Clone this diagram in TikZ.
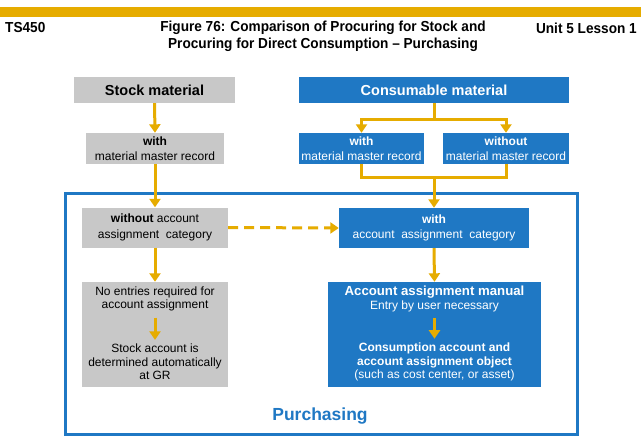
\documentclass[tikz,border=0pt]{standalone}
\usepackage{fontspec}
\setmainfont{Liberation Sans}
\newfontfamily\condfont[FakeStretch=0.94]{Liberation Sans}
\usetikzlibrary{arrows.meta}
\definecolor{sapblue}{HTML}{1F78C4}
\definecolor{sapgray}{HTML}{C8C8C8}
\definecolor{sapgold}{HTML}{E6AC00}
\tikzset{
  graybox/.style={fill=sapgray, text=black, inner sep=0pt, align=center},
  bluebox/.style={fill=sapblue, text=white, inner sep=0pt, align=center},
  small/.style={font=\fontsize{12}{13.5}\selectfont},
  wide/.style={font=\fontsize{12}{15.5}\selectfont},
  big/.style={font=\bfseries\fontsize{14.5}{16}\selectfont},
  arr/.style={draw=sapgold, line width=3pt, -{Triangle[width=11pt,length=8.5pt]}},
  ln/.style={draw=sapgold, line width=3pt},
  hdr/.style={font=\condfont\bfseries\fontsize{14.5}{17}\selectfont, inner sep=0pt}
}
\begin{document}
\begin{tikzpicture}[x=1pt,y=-1pt]
\useasboundingbox (0,0) rectangle (641,440);
\fill[white] (0,0) rectangle (641,440);
% header
\fill[sapgold] (0,7) rectangle (641,17);
\node[hdr, anchor=west] (ts) at (5,28) {TS450};
\node[hdr, align=center] (title) at (323,36.5) {Figure 76: Comparison of Procuring for Stock and\\Procuring for Direct Consumption – Purchasing};
\node[hdr, anchor=east] (unit) at (637,28) {Unit 5 Lesson 1};
% frame
\draw[sapblue, line width=3pt] (65,193) rectangle (577,434);
\node[font=\bfseries\fontsize{17.5}{20}\selectfont, text=sapblue] (purch) at (320,416) {Purchasing};
% top boxes
\node[graybox, big, minimum width=161pt, minimum height=26pt] (stock) at (154.5,90) {Stock material};
\node[bluebox, big, minimum width=270pt, minimum height=26pt] (cons) at (434,90) {Consumable material};
\node[graybox, wide, minimum width=138pt, minimum height=31pt] (with1) at (155,148.5) {\textbf{with}\\material master record};
\node[bluebox, wide, minimum width=125pt, minimum height=31pt] (withc) at (361.5,148.5) {\textbf{with}\\material master record};
\node[bluebox, wide, minimum width=126pt, minimum height=31pt] (without) at (506,148.5) {\textbf{without}\\material master record};
% middle
\node[graybox, wide, minimum width=146pt, minimum height=40pt] (woacc) at (155,227.5) {\textbf{without} account\\assignment\ \ category};
\node[bluebox, wide, minimum width=190pt, minimum height=40pt] (wacc) at (434,228) {\textbf{with}\\account\ \ assignment\ \ category};
% bottom boxes
\node[graybox, minimum width=146pt, minimum height=105pt] (lbot) at (155,334.5) {};
\node[bluebox, minimum width=213pt, minimum height=105pt] (rbot) at (434.5,334.5) {};
\node[small, align=center, inner sep=0pt] (lt1) at (155,299) {No entries required for\\account assignment};
\node[small, align=center, inner sep=0pt] (lt2) at (155,362) {Stock account is\\determined automatically\\at GR};
\node[small, align=center, inner sep=0pt, text=white] (rt1) at (434.5,299) {\textbf{\fontsize{13.2}{14}\selectfont Account\ assignment\ manual}\\Entry by user necessary};
\node[small, align=center, inner sep=0pt, text=white] (rt2) at (434.5,362) {\textbf{Consumption account and}\\\textbf{account assignment object}\\(such as cost center, or asset)};
% connectors
\coordinate (split) at (434,119);
\coordinate (merge) at (434,177);
\draw[arr] (stock.south) -- (with1.north);
\draw[arr] (with1.south) -- (woacc.north);
\draw[arr] (woacc.south) -- (lbot.north);
\draw[arr, dash pattern=on 10pt off 6pt] (woacc.east) -- (wacc.west);
\draw[ln] (cons.south) -- (split);
\draw[arr] (split) -| (withc.north);
\draw[arr] (split) -| (without.north);
\draw[ln] (withc.south) |- (merge);
\draw[ln] (without.south) |- (merge);
\draw[arr] (merge) -- (wacc.north);
\draw[arr] (wacc.south) -- (rbot.north);
\draw[arr, shorten <=6pt, shorten >=4pt] (lt1.south) -- (lt2.north);
\draw[arr, shorten <=6pt, shorten >=4pt] (rt1.south) -- (rt2.north);
\end{tikzpicture}
\end{document}
